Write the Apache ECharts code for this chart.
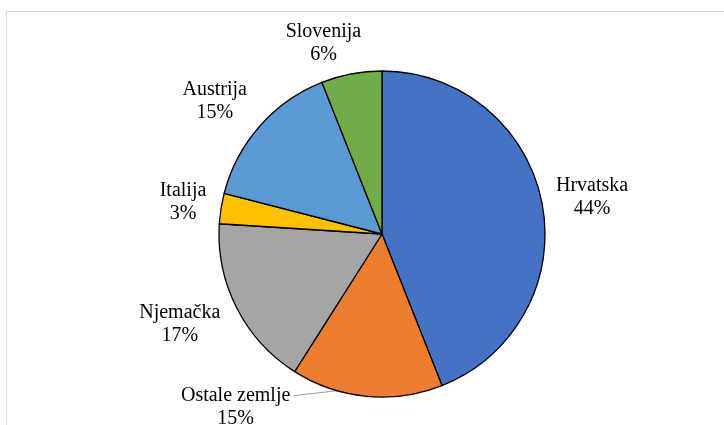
<!DOCTYPE html>
<html>
<head>
<meta charset="utf-8">
<script src="https://cdn.jsdelivr.net/npm/echarts@6/dist/echarts.min.js"></script>
<style>
  html, body { margin: 0; padding: 0; background: #fff; }
  #chart { width: 724px; height: 425px; }
</style>
</head>
<body>
<div id="chart"></div>
<script>
const countries = ['Hrvatska', 'Ostale zemlje', 'Njemačka', 'Italija', 'Austrija', 'Slovenija'];
const shares = [44, 15, 17, 3, 15, 6];
const colors = ['#4472C4', '#ED7D31', '#A5A5A5', '#FFC000', '#5B9BD5', '#70AD47'];

// pie geometry
const CX = 382, CY = 234, R = 163;
// label centre, shifted from the slice's mid-angle point on the rim (Excel style placement)
const labelShift = [[50, -6], [-131, 11], [-57, 16], [-38, -6], [-45, -25], [-28, -31]];

const total = shares.reduce((a, b) => a + b, 0);
const midAngles = [];
let acc = 0;
shares.forEach(v => {
  midAngles.push((acc + v / 2) / total * 2 * Math.PI);
  acc += v;
});
const rimPoint = a => [CX + R * Math.sin(a), CY - R * Math.cos(a)];

const chart = echarts.init(document.getElementById('chart'));

const data = countries.map((name, i) => ({
  name: name,
  value: shares[i],
  itemStyle: { color: colors[i] },
  labelLine: { show: name === 'Ostale zemlje' }
}));

chart.setOption({
  animation: false,
  graphic: [{
    type: 'rect',
    shape: { x: 6.5, y: 11.5, width: 800, height: 600 },
    style: { fill: 'none', stroke: '#d9d9d9', lineWidth: 1 }
  }],
  series: [{
    type: 'pie',
    center: [CX, CY],
    radius: R,
    startAngle: 90,
    clockwise: true,
    data: data,
    itemStyle: { borderColor: '#000', borderWidth: 1.3 },
    label: {
      show: true,
      position: 'outside',
      formatter: '{b}\n{d}%',
      fontFamily: "'Liberation Serif', 'Times New Roman', serif",
      fontSize: 20,
      lineHeight: 23,
      color: '#000'
    },
    labelLine: { length: 12, length2: 0, lineStyle: { color: '#a6a6a6', width: 1.2 } },
    labelLayout: function (params) {
      const i = params.dataIndex;
      const p = rimPoint(midAngles[i]);
      const x = p[0] + labelShift[i][0];
      const y = p[1] + labelShift[i][1];
      const out = { x: x, y: y, align: 'center', verticalAlign: 'middle' };
      if (countries[i] === 'Ostale zemlje') {
        // leader line from the right end of the first text line to the slice rim
        const lx = x + params.labelRect.width / 2 + 3;
        const ly = y - 11.5;
        const e = rimPoint(196 / 180 * Math.PI);
        out.labelLinePoints = [e, [lx, ly], [lx, ly]];
      }
      return out;
    }
  }]
});
</script>
</body>
</html>
